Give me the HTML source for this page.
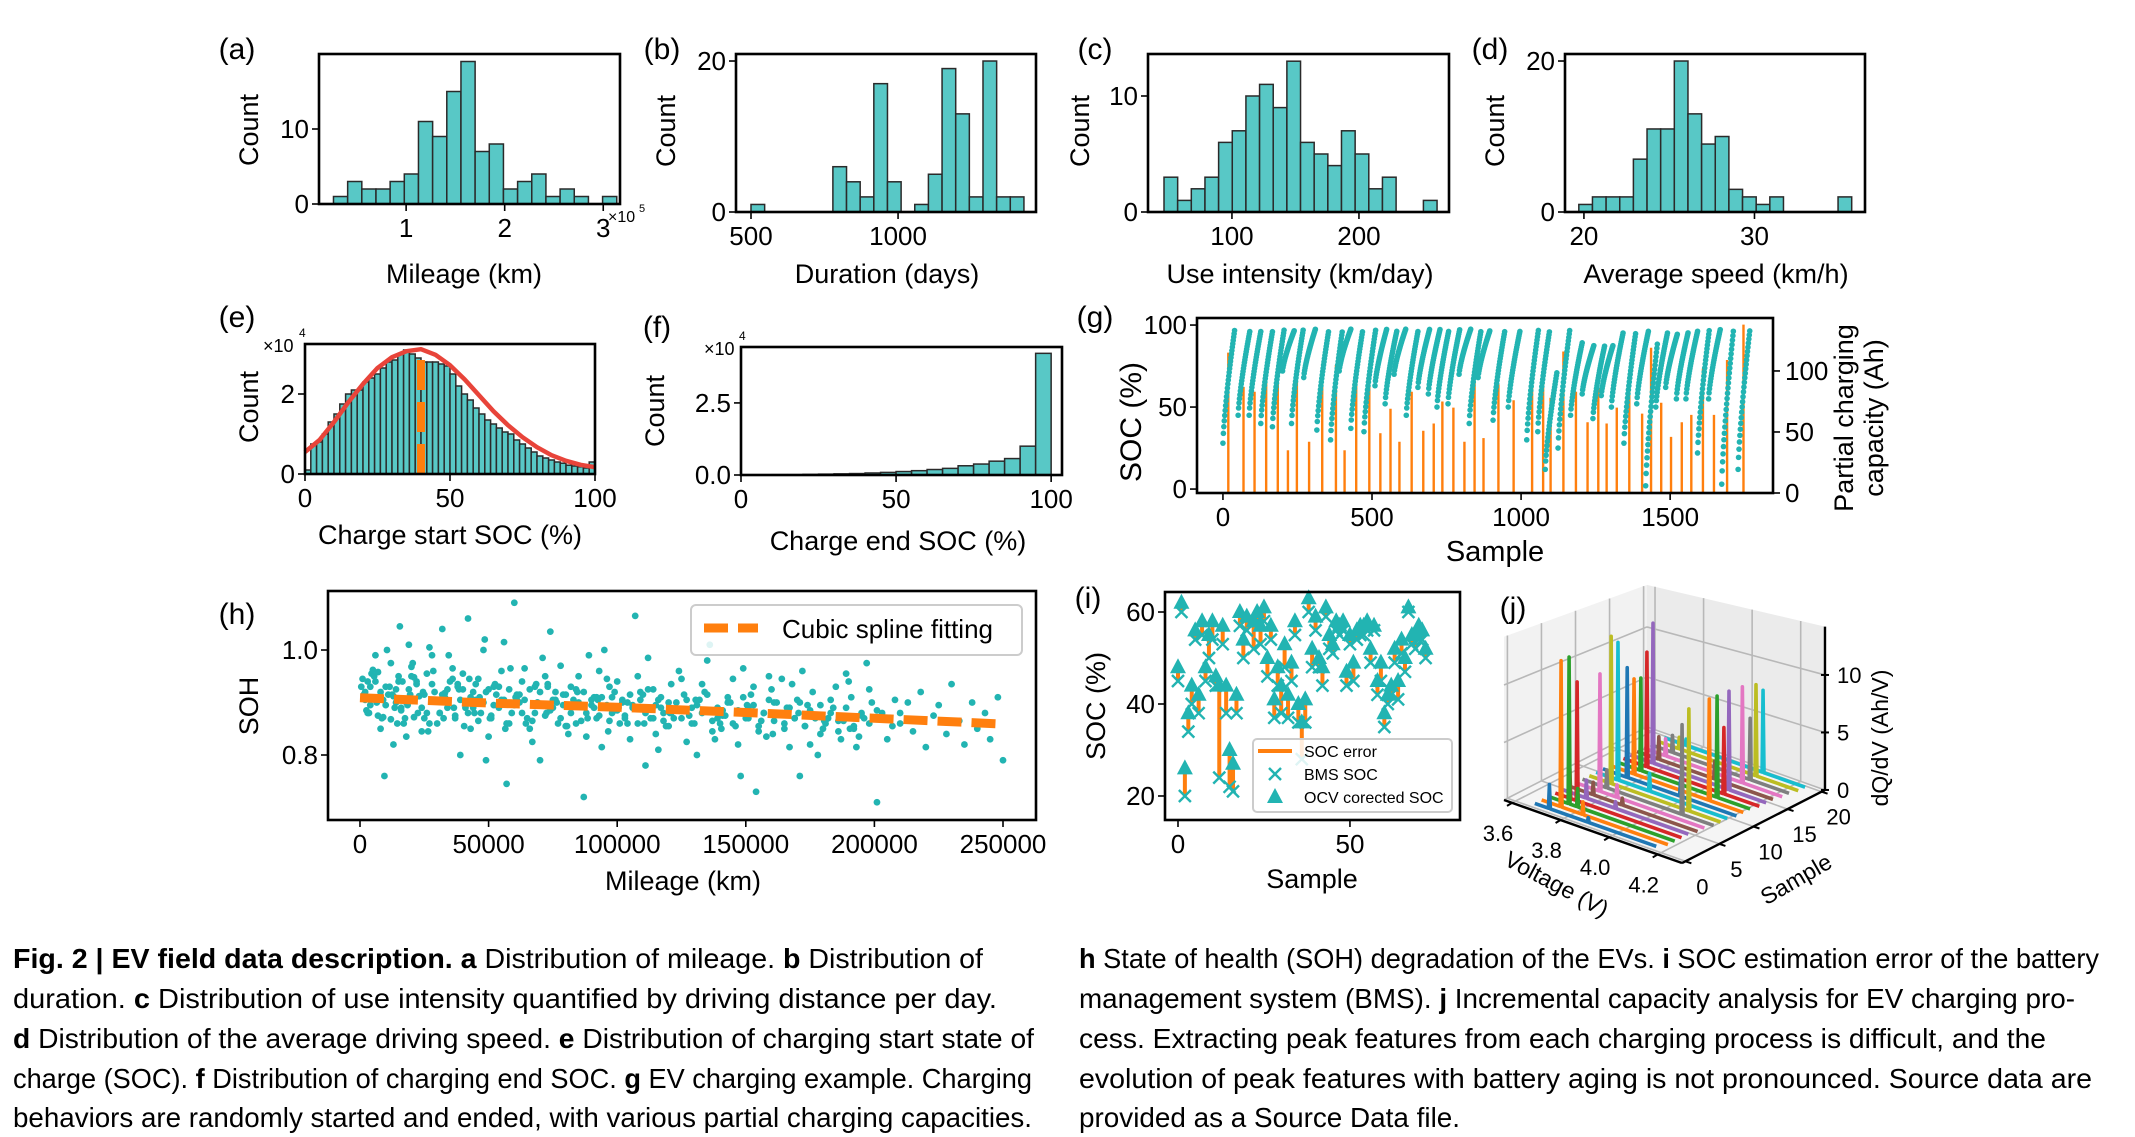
<!DOCTYPE html>
<html><head><meta charset="utf-8"><title>Fig. 2 EV field data description</title>
<style>
html,body{margin:0;padding:0;background:#fff;}
svg{display:block;}
text{font-family:"Liberation Sans",Arial,sans-serif;fill:#000;}
.cap{font-size:28px;}
.b{font-weight:bold;}
</style></head>
<body>
<svg id="fig" width="2135" height="1137" viewBox="0 0 2135 1137" xmlns="http://www.w3.org/2000/svg">
<rect x="0" y="0" width="2135" height="1137" fill="#fff"/>
<g font-size="30">
<text x="237" y="59" text-anchor="middle">(a)</text>
<text x="662" y="59" text-anchor="middle">(b)</text>
<text x="1095" y="59" text-anchor="middle">(c)</text>
<text x="1490" y="59" text-anchor="middle">(d)</text>
<text x="237" y="327" text-anchor="middle">(e)</text>
<text x="657" y="337" text-anchor="middle">(f)</text>
<text x="1095" y="327" text-anchor="middle">(g)</text>
<text x="237" y="624" text-anchor="middle">(h)</text>
<text x="1088" y="608" text-anchor="middle">(i)</text>
<text x="1513" y="618" text-anchor="middle">(j)</text>
</g>
<g class="cap">
<text x="13" y="968" textLength="970" lengthAdjust="spacingAndGlyphs" class="cap"><tspan class="b">Fig. 2 | EV field data description. a</tspan> Distribution of mileage. <tspan class="b">b</tspan> Distribution of</text>
<text x="13" y="1008" textLength="984" lengthAdjust="spacingAndGlyphs" class="cap">duration. <tspan class="b">c</tspan> Distribution of use intensity quantified by driving distance per day.</text>
<text x="13" y="1048" textLength="1021" lengthAdjust="spacingAndGlyphs" class="cap"><tspan class="b">d</tspan> Distribution of the average driving speed. <tspan class="b">e</tspan> Distribution of charging start state of</text>
<text x="13" y="1088" textLength="1019" lengthAdjust="spacingAndGlyphs" class="cap">charge (SOC). <tspan class="b">f</tspan> Distribution of charging end SOC. <tspan class="b">g</tspan> EV charging example. Charging</text>
<text x="13" y="1127" textLength="1019" lengthAdjust="spacingAndGlyphs" class="cap">behaviors are randomly started and ended, with various partial charging capacities.</text>
</g>
<g class="cap">
<text x="1079" y="968" textLength="1020" lengthAdjust="spacingAndGlyphs" class="cap"><tspan class="b">h</tspan> State of health (SOH) degradation of the EVs. <tspan class="b">i</tspan> SOC estimation error of the battery</text>
<text x="1079" y="1008" textLength="996" lengthAdjust="spacingAndGlyphs" class="cap">management system (BMS). <tspan class="b">j</tspan> Incremental capacity analysis for EV charging pro-</text>
<text x="1079" y="1048" textLength="967" lengthAdjust="spacingAndGlyphs" class="cap">cess. Extracting peak features from each charging process is difficult, and the</text>
<text x="1079" y="1088" textLength="1013" lengthAdjust="spacingAndGlyphs" class="cap">evolution of peak features with battery aging is not pronounced. Source data are</text>
<text x="1079" y="1127" textLength="381" lengthAdjust="spacingAndGlyphs" class="cap">provided as a Source Data file.</text>
</g>
</svg>
<script>
// ---------- data ----------
const aCounts=[1,3,2,2,3,4,11,9,15,19,7,8,2,3,4,1,2,1,0,1];
const aBin=[0.263,0.1437];
const aTicks=[1,2,3];
const aTickLabels=["1","2","3"];
const bCounts=[1,0,0,0,0,0,6,4,2,17,4,0,1,5,19,13,2,20,2,2];
const bBin=[500,46.4];
const bTicks=[500,1000];
const bTickLabels=["500","1000"];
const cCounts=[3,1,2,3,6,7,10,11,9,13,6,5,4,7,5,2,3,0,0,1];
const cBin=[46.5,10.75];
const cTicks=[100,200];
const cTickLabels=["100","200"];
const dCounts=[1,2,2,2,7,11,11,20,13,9,10,3,2,1,2,0,0,0,0,2];
const dBin=[19.7,0.8];
const dTicks=[20,30];
const dTickLabels=["20","30"];
const eCounts=[0.1,0.75,0.8,1.0,1.3,1.5,1.75,2.0,2.1,2.1,2.3,2.4,2.5,2.65,2.8,2.85,3.0,3.1,3.0,2.9,2.8,2.8,2.8,2.75,2.7,2.5,2.2,2.0,1.85,1.65,1.5,1.35,1.25,1.15,1.05,1.0,0.85,0.75,0.65,0.55,0.45,0.4,0.35,0.3,0.27,0.22,0.2,0.18,0.15,0.3];
const eBin=[0,2];
const eCurveX=[0,5,10,15,20,25,30,35,40,45,50,55,60,65,70,75,80,85,90,95,100];
const eCurveY=[0.55,0.85,1.3,1.8,2.25,2.65,2.92,3.07,3.12,2.98,2.72,2.37,1.97,1.57,1.22,0.92,0.67,0.47,0.33,0.23,0.17];
const eMean=[40];
const fCounts=[0.005,0.005,0.01,0.01,0.02,0.03,0.04,0.05,0.07,0.09,0.12,0.15,0.19,0.23,0.32,0.38,0.48,0.57,1.0,4.22];
const fBin=[0,5];
const gStemSample=[18,69,106,145,184,218,248,289,333,379,408,447,491,528,562,592,633,672,707,736,773,810,844,874,924,975,1037,1074,1099,1142,1184,1223,1259,1287,1321,1363,1406,1436,1470,1503,1539,1571,1610,1647,1691,1746];
const gStemCap=[115,87,83,93,95,35,92,42,96,105,35,99,99,49,69,42,83,51,57,75,70,42,92,45,89,76,97,89,78,116,83,58,86,57,70,98,65,119,74,46,58,64,102,64,109,138];
const gStartSoc=[28,45,45,40,38,72,40,68,36,30,72,37,35,63,52,70,45,62,58,50,52,70,40,68,42,50,30,35,12,25,45,58,43,57,50,28,52,2,50,62,55,55,22,55,3,12];
const gEndSoc=[98,97,97,97,98,97,98,98,97,97,98,97,98,98,97,98,97,98,98,97,98,98,97,97,97,97,98,97,72,98,90,88,88,88,96,96,97,90,96,95,96,97,98,98,98,98];
const hKm=[1,3,5,2,8,4,6,9,11,7,13,15,10,12,17,14,19,16,21,18,
23,20,25,22,27,24,29,26,31,28,33,30,35,32,37,34,39,36,41,38,
43,40,45,42,47,44,49,46,51,48,53,50,55,52,57,54,59,56,61,58,
63,60,65,62,67,64,69,66,71,68,73,70,75,72,77,74,79,76,81,78,
83,80,85,82,87,84,89,86,91,88,93,90,95,92,97,94,99,96,101,98,
103,100,105,102,107,104,109,106,111,108,113,110,115,112,117,114,119,116,121,118,
123,120,125,122,127,124,129,126,131,128,133,130,135,132,137,134,139,136,141,138,
143,140,145,142,147,144,149,146,151,148,153,150,155,152,157,154,159,156,161,158,
163,160,165,162,167,164,169,166,171,168,173,170,175,172,177,174,179,176,181,178,
183,180,185,182,187,184,189,186,191,188,193,190,195,192,197,194,199,196,201,198,
203,205,208,210,213,215,218,220,223,225,228,230,233,235,238,240,243,245,248,250,
0.5,2.5,4.5,6.5,8.5,10.5,12.5,14.5,16.5,18.5,20.5,22.5,24.5,26.5,28.5,30.5,32.5,34.5,36.5,38.5,
40.5,42.5,44.5,46.5,48.5,50.5,52.5,54.5,56.5,58.5,1.5,3.5,5.5,7.5,9.5,11.5,13.5,15.5,17.5,19.5,
60.5,64.5,68.5,72.5,76.5,80.5,84.5,88.5,92.5,96.5,100.5,110.5,120.5,130.5,140.5,150.5,160.5,170.5,180.5,190.5,
2,4,6,7,9,10,12,13,15,16,18,19,21,22,24,25,27,28,30,31,
33,34,36,37,39,40,42,43,45,46,48,49,51,52,54,55,57,58,60,61,
63,64,66,67,69,70,72,73,75,76,78,79,81,82,84,85,87,88,90,91,
93,94,96,97,99,100,102,103,105,106,108,109,111,112,114,115,117,118,120,121,
123,125,127,129,131,133,135,137,139,141,143,145,147,149,151,153,155,157,159,161,
163,165,167,169,171,173,175,177,179,181,183,186,189,192,195,198,201,204,207,210,
3,8,14,20,26,32,38,44,50,56,62,68,74,80,86,92,98,104,110,116];
const hSoh=[945,880,962,905,850,930,990,872,915,958,820,940,895,975,860,925,1010,890,948,835,
912,968,870,935,1005,845,920,955,880,990,910,860,940,1040,875,925,800,965,890,930,
850,955,905,1060,880,920,790,945,870,1000,915,835,960,895,745,930,880,1015,905,860,
940,1090,870,915,825,965,900,850,985,880,930,790,905,950,860,1035,895,920,840,970,
905,855,950,880,720,925,990,865,910,835,960,895,1000,870,930,815,885,945,860,910,
875,940,830,905,1065,860,920,895,780,950,870,915,840,985,890,925,855,810,935,880,
900,855,945,870,825,960,890,915,800,875,935,860,980,905,845,920,870,1010,885,830,
910,860,945,875,820,900,965,855,890,760,930,870,845,915,880,730,950,865,900,835,
880,925,850,900,815,945,870,890,760,935,855,905,820,960,875,895,840,920,865,800,
905,850,930,870,830,890,955,845,910,865,815,940,880,855,975,835,900,870,710,925,
880,830,905,860,900,845,920,815,875,895,840,935,865,820,900,850,880,830,910,790,
930,885,955,900,870,1000,915,860,940,895,975,880,920,845,960,905,870,990,890,925,
855,945,880,910,1020,870,935,895,850,965,915,880,950,905,760,930,890,1045,870,915,
910,860,935,880,900,855,920,870,905,845,890,860,880,905,850,895,840,880,865,850,
920,895,940,875,905,930,868,912,950,885,900,925,872,940,890,915,860,935,905,880,
918,890,945,870,905,925,880,910,935,865,900,920,875,930,890,905,860,925,895,915,
880,905,925,865,900,920,875,935,890,905,870,915,895,930,860,900,920,880,905,890,
875,910,895,865,920,885,900,870,915,890,860,905,880,925,870,895,910,865,900,880,
885,870,905,860,895,880,915,865,890,875,900,860,885,910,870,895,855,880,905,865,
880,860,890,870,900,855,885,870,895,860,880,865,890,850,875,860,885,870,855,880,
940,920,900,950,880,915,935,890,925,905,900,930,885,915,895,910,880,900,890,905];
const hFitKm=[0,50000,100000,150000,200000,250000];
const hFitSoh=[0.909,0.899,0.891,0.881,0.870,0.859];
const hTicks=[0,50000,100000,150000,200000,250000];
const hTickLabels=["0","50000","100000","150000","200000","250000"];
const iSample=[0,1,2,3,4,5,6,7,8,9,10,11,12,13,14,15,16,17,18,19,20,22,23,24,25,26,27,28,29,30,31,32,33,34,35,36,37,38,39,40,41,42,43,44,45,46,47,48,49,50,51,52,53,54,55,56,57,58,59,60,61,62,63,64,65,66,67,68,69,70,71,72];
const iOcv=[48,62,26,38,44,56,42,58,48,55,58,46,44,57,44,30,27,42,60,54,59,58,60,57,61,50,57,41,48,44,53,42,49,58,40,36,41,63,52,59,50,48,61,55,53,58,57,58,47,55,49,56,57,57,58,52,57,45,49,38,42,44,52,45,54,50,61,55,55,57,56,52];
const iBms=[45,60,20,34,40,54,38,55,45,50,54,44,24,53,38,22,21,38,57,50,56,52,58,53,58,46,54,37,44,38,48,37,45,55,36,28,36,60,48,56,48,44,59,52,51,56,55,56,44,53,45,54,55,55,56,49,56,42,45,35,40,42,49,41,51,47,60,53,52,54,54,50];
const jPeak1V=[3.74,3.76,3.765,3.77,3.78,3.78,3.78,3.78,3.77,3.77,3.78,3.78,3.78,3.777,3.774,3.77,3.77,3.77,3.77,3.77];
const jPeak1H=[2.5,13.2,13.3,10.9,2,1.5,10.9,2,13.7,12.9,10.4,9.1,8.9,11,13.4,2.5,2,2,1.5,1];
const jPeak2V=[3.9,3.85,3.8,3.74,3.9,3.9,3.85,4.09,4.09,3.9,4.0,4.09,4.094,4.094,4.087,4.0,4.086,4.09,4.086,4.087];
const jPeak2H=[0.8,1.5,2,3,1,1,1.5,8.3,9.4,2,2,9.4,9.4,6.3,9.2,2,9.0,5.9,8.6,7.8];
const jEndV=[4.18,4.2,4.2,4.2,4.2,4.21,4.21,4.22,4.22,4.22,4.23,4.23,4.23,4.24,4.24,4.24,4.25,4.25,4.26,4.26];
const jVTicks=[3.6,3.8,4.0,4.2];
const jSTicks=[0,5,10,15,20];
const jZTicks=[0,5,10];

// ---------- helpers ----------
const NS='http://www.w3.org/2000/svg';
const svg=document.getElementById('fig');
const TEAL='#58c8c6', DOT='#22b4b2', ORANGE='#ff7f0e';
function mk(tag,attrs,parent){const e=document.createElementNS(NS,tag);for(const k in attrs)e.setAttribute(k,attrs[k]);(parent||svg).appendChild(e);return e;}
function lin(d0,d1,r0,r1){return v=>r0+(v-d0)/(d1-d0)*(r1-r0);}
function label(parent,x,y,str,size,anchor,name,rot,color){
  const t=mk('text',{x:x,y:y,'font-size':size,'text-anchor':anchor||'middle'},parent);
  if(rot)t.setAttribute('transform','rotate('+rot+' '+x+' '+y+')');
  if(color)t.setAttribute('fill',color);
  t.textContent=str;
  
  
  return t;
}
function group(name){const g=mk('g',{});
  
  
  return g;}
function frame(g,box,name){const r=mk('rect',{x:box[0],y:box[1],width:box[2]-box[0],height:box[3]-box[1],fill:'none',stroke:'#000','stroke-width':2.6},g);
  
  }
function xTicks(g,ticks,labels,sx,box,pfx){
  ticks.forEach((t,i)=>{const x=sx(t);
    const l=mk('line',{x1:x,x2:x,y1:box[3],y2:box[3]+7,stroke:'#000','stroke-width':1.6},g);
    
    
    label(g,x,box[3]+33,labels[i],26,'middle',pfx+'-x-tick-label');});
}
function yTicks(g,ticks,labels,sy,box,pfx,side,color){
  ticks.forEach((t,i)=>{const y=sy(t);
    const x0=side==='right'?box[2]:box[0];const dx=side==='right'?7:-7;
    const l=mk('line',{x1:x0,x2:x0+dx,y1:y,y2:y,stroke:'#000','stroke-width':1.6},g);
    
    
    label(g,side==='right'?x0+12:x0-10,y+9,labels[i],26,side==='right'?'start':'end',pfx+'-y-tick-label',0,color);});
}
function histogram(pfx,box,xd,yd,counts,bin,fill){
  const g=group('panel-'+pfx);
  const sx=lin(xd[0],xd[1],box[0],box[2]), sy=lin(yd[0],yd[1],box[3],box[1]);
  counts.forEach((c,i)=>{if(c<=0)return;
    const x0=sx(bin[0]+i*bin[1]),x1=sx(bin[0]+(i+1)*bin[1]);
    const r=mk('rect',{x:x0,y:sy(c),width:x1-x0,height:sy(0)-sy(c),fill:fill||TEAL,stroke:'#2a2a2a','stroke-width':1.5},g);
    
    });
  return {g,sx,sy};
}

// ---------- (a)-(d) ----------
let p=histogram('a',[319,54,620,204],[0.116,3.17],[0,20],aCounts,aBin);
frame(p.g,[319,54,620,204],'a-frame');
xTicks(p.g,aTicks,aTickLabels,p.sx,[319,54,620,204],'a');
yTicks(p.g,[0,10],["0","10"],p.sy,[319,54,620,204],'a');
label(p.g,464,283,'Mileage (km)',27,'middle','a-x-axis-title');
label(p.g,258,130,'Count',27,'middle','a-y-axis-title',-90);
label(p.g,608,222,'×10',16,'start','a-x-offset-text');
label(p.g,639,212,'5',11,'start','a-x-offset-exponent');

p=histogram('b',[736,54,1036,212],[449,1469],[0,20.93],bCounts,bBin);
frame(p.g,[736,54,1036,212],'b-frame');
xTicks(p.g,bTicks,bTickLabels,p.sx,[736,54,1036,212],'b');
yTicks(p.g,[0,20],["0","20"],p.sy,[736,54,1036,212],'b');
label(p.g,887,283,'Duration (days)',27,'middle','b-x-axis-title');
label(p.g,675,131,'Count',27,'middle','b-y-axis-title',-90);

p=histogram('c',[1148,54,1449,212],[33.9,270.9],[0,13.62],cCounts,cBin);
frame(p.g,[1148,54,1449,212],'c-frame');
xTicks(p.g,cTicks,cTickLabels,p.sx,[1148,54,1449,212],'c');
yTicks(p.g,[0,10],["0","10"],p.sy,[1148,54,1449,212],'c');
label(p.g,1300,283,'Use intensity (km/day)',27,'middle','c-x-axis-title');
label(p.g,1089,131,'Count',27,'middle','c-y-axis-title',-90);

p=histogram('d',[1565,54,1865,212],[18.89,36.48],[0,20.93],dCounts,dBin);
frame(p.g,[1565,54,1865,212],'d-frame');
xTicks(p.g,dTicks,dTickLabels,p.sx,[1565,54,1865,212],'d');
yTicks(p.g,[0,20],["0","20"],p.sy,[1565,54,1865,212],'d');
label(p.g,1716,283,'Average speed (km/h)',27,'middle','d-x-axis-title');
label(p.g,1504,131,'Count',27,'middle','d-y-axis-title',-90);

// ---------- (e) ----------
p=histogram('e',[305,344,595,474],[0,100],[0,3.25],eCounts,eBin);
{
  const pts=eCurveX.map((x,i)=>p.sx(x)+','+p.sy(eCurveY[i])).join(' ');
  const c=mk('polyline',{points:pts,fill:'none',stroke:'#e8443a','stroke-width':4.5,'stroke-linejoin':'round'},p.g);
  
  
  const m=mk('line',{x1:p.sx(eMean[0]),x2:p.sx(eMean[0]),y1:p.sy(0),y2:p.sy(3.1),stroke:ORANGE,'stroke-width':8,'stroke-dasharray':'30 12'},p.g);
  
  
}
frame(p.g,[305,344,595,474],'e-frame');
xTicks(p.g,[0,50,100],["0","50","100"],p.sx,[305,344,595,474],'e');
yTicks(p.g,[0,2],["0","2"],p.sy,[305,344,595,474],'e');
label(p.g,450,544,'Charge start SOC (%)',27,'middle','e-x-axis-title');
label(p.g,258,407,'Count',27,'middle','e-y-axis-title',-90);
label(p.g,263,352,'×10',18,'start','e-y-offset-text');
label(p.g,299,337,'4',12,'start','e-y-offset-exponent');

// ---------- (f) ----------
p=histogram('f',[741,347,1062,475],[0,103.5],[0,4.44],fCounts,fBin);
frame(p.g,[741,347,1062,475],'f-frame');
xTicks(p.g,[0,50,100],["0","50","100"],p.sx,[741,347,1062,475],'f');
yTicks(p.g,[0,2.5],["0.0","2.5"],p.sy,[741,347,1062,475],'f');
label(p.g,898,550,'Charge end SOC (%)',27,'middle','f-x-axis-title');
label(p.g,664,411,'Count',27,'middle','f-y-axis-title',-90);
label(p.g,704,355,'×10',18,'start','f-y-offset-text');
label(p.g,739,340,'4',12,'start','f-y-offset-exponent');

// ---------- (g) ----------
{
  const box=[1197,318,1773,493];
  const g=group('panel-g');
  const sx=lin(-87,1845,box[0],box[2]);
  const sy=lin(-2.4,104.3,box[3],box[1]);
  const sr=lin(0,143.4,box[3],box[1]);
  gStemSample.forEach((s,i)=>{
    const l=mk('line',{x1:sx(s),x2:sx(s),y1:sr(0),y2:sr(gStemCap[i]),stroke:ORANGE,'stroke-width':2.4},g);
    
    
  });
  gStemSample.forEach((s,i)=>{
    const s0=s-18,s1=s+22;
    for(let k=s0;k<=s1;k+=1.5){
      const f=(k-s0)/(s1-s0);
      const soc=gStartSoc[i]+(gEndSoc[i]-gStartSoc[i])*Math.pow(f,0.75);
      const c=mk('circle',{cx:sx(k),cy:sy(soc),r:2.8,fill:DOT},g);
      
      
    }
  });
  frame(g,box,'g-frame');
  xTicks(g,[0,500,1000,1500],["0","500","1000","1500"],sx,box,'g');
  yTicks(g,[0,50,100],["0","50","100"],sy,box,'g');
  yTicks(g,[0,50,100],["0","50","100"],sr,box,'g-right','right');
  label(g,1495,561,'Sample',29,'middle','g-x-axis-title');
  label(g,1141,422,'SOC (%)',30,'middle','g-y-axis-title',-90,'#22b4b2');
  label(g,1853,418,'Partial charging',27,'middle','g-right-axis-title-1',-90,ORANGE);
  label(g,1883,418,'capacity (Ah)',27,'middle','g-right-axis-title-2',-90,ORANGE);
}

// ---------- (h) ----------
{
  const box=[328,591,1036,820];
  const g=group('panel-h');
  const sx=lin(-12440,262830,box[0],box[2]);
  const sy=lin(0.6762,1.1124,box[3],box[1]);
  hKm.forEach((k,i)=>{
    const c=mk('circle',{cx:sx(k*1000),cy:sy(hSoh[i]/1000),r:3.4,fill:DOT},g);
    
    
  });
  const pts=hFitKm.map((k,i)=>sx(k)+','+sy(hFitSoh[i])).join(' ');
  const f=mk('polyline',{points:pts,fill:'none',stroke:ORANGE,'stroke-width':9,'stroke-dasharray':'24 10'},g);
  
  
  frame(g,box,'h-frame');
  xTicks(g,hTicks,hTickLabels,sx,box,'h');
  yTicks(g,[0.8,1.0],["0.8","1.0"],sy,box,'h');
  label(g,683,890,'Mileage (km)',27,'middle','h-x-axis-title');
  label(g,258,706,'SOH',27,'middle','h-y-axis-title',-90);
  const lg=mk('rect',{x:691,y:605,width:331,height:50,rx:5,fill:'#fff','fill-opacity':0.85,stroke:'#cccccc','stroke-width':2},g);
  
  
  const ll=mk('line',{x1:704,x2:758,y1:628,y2:628,stroke:ORANGE,'stroke-width':9,'stroke-dasharray':'24 10'},g);
  
  
  label(g,782,638,'Cubic spline fitting',26,'start','h-legend-label');
}

// ---------- (i) ----------
{
  const box=[1165,592,1460,820];
  const g=group('panel-i');
  const sx=lin(-3.78,82,box[0],box[2]);
  const sy=lin(14.78,64.35,box[3],box[1]);
  iSample.forEach((s,i)=>{
    const x=sx(s);
    const l=mk('line',{x1:x,x2:x,y1:sy(iOcv[i]),y2:sy(iBms[i]),stroke:ORANGE,'stroke-width':4},g);
    
    
  });
  iSample.forEach((s,i)=>{
    const x=sx(s),y=sy(iBms[i]);
    const m=mk('path',{d:`M${x-6},${y-6}L${x+6},${y+6}M${x-6},${y+6}L${x+6},${y-6}`,stroke:DOT,'stroke-width':2.4,fill:'none'},g);
    
    
  });
  iSample.forEach((s,i)=>{
    const x=sx(s),y=sy(iOcv[i]);
    const t=mk('path',{d:`M${x},${y-9}L${x+8},${y+6}L${x-8},${y+6}Z`,fill:DOT},g);
    
    
  });
  frame(g,box,'i-frame');
  xTicks(g,[0,50],["0","50"],sx,box,'i');
  yTicks(g,[20,40,60],["20","40","60"],sy,box,'i');
  label(g,1312,888,'Sample',27,'middle','i-x-axis-title');
  label(g,1105,706,'SOC (%)',27,'middle','i-y-axis-title',-90);
  const lg=mk('rect',{x:1253,y:739,width:199,height:73,rx:4,fill:'#fff','fill-opacity':0.85,stroke:'#cccccc','stroke-width':2},g);
  
  
  const l1=mk('line',{x1:1258,x2:1292,y1:751,y2:751,stroke:ORANGE,'stroke-width':4},g);
  
  
  const l2=mk('path',{d:'M1269,768L1281,780M1269,780L1281,768',stroke:DOT,'stroke-width':2.4},g);
  
  
  const l3=mk('path',{d:'M1275,788L1283,803L1267,803Z',fill:DOT},g);
  
  
  label(g,1304,757,'SOC error',16,'start','i-legend-error-label');
  label(g,1304,780,'BMS SOC',16,'start','i-legend-bms-label');
  label(g,1304,803,'OCV corected SOC',16,'start','i-legend-ocv-label');
}

// ---------- (j) ----------
{
  const g=group('panel-j');
  const V0=3.567,V1=4.3,S0=-0.5,S1=20.5,ZT=14.2;
  function zs(v,s){return 11.5-1.5*((s-S0)/(S1-S0))*(1-(v-V0)/(V1-V0));}
  function P(v,s,z){return [1504+(v-V0)*242.8+(s-S0)*6.81, 800+(v-V0)*86-(s-S0)*3.48-z*zs(v,s)];}
  function poly(pts,attrs,name){const e=mk('polygon',Object.assign({points:pts.map(q=>q.join(',')).join(' ')},attrs),g);
    
    }
  function seg(a,b,attrs,name){const e=mk('line',Object.assign({x1:a[0],y1:a[1],x2:b[0],y2:b[1]},attrs),g);
    
    }
  poly([P(V0,S0,ZT),P(V0,S1,ZT),P(V0,S1,0),P(V0,S0,0)],{fill:'#f2f2f2'},'j-left-pane');
  poly([P(V0,S1,ZT),P(V1,S1,ZT),P(V1,S1,0),P(V0,S1,0)],{fill:'#ebebeb'},'j-back-pane');
  poly([P(V0,S0,0),P(V0,S1,0),P(V1,S1,0),P(V1,S0,0)],{fill:'#f5f5f5'},'j-floor-pane');
  const gs={stroke:'#b8b8b8','stroke-width':1.6};
  jSTicks.forEach(s=>{seg(P(V0,s,0),P(V0,s,ZT),gs,'j-grid-line');seg(P(V0,s,0),P(V1,s,0),gs,'j-grid-line');});
  jVTicks.forEach(v=>{seg(P(v,S1,0),P(v,S1,ZT),gs,'j-grid-line');seg(P(v,S0,0),P(v,S1,0),gs,'j-grid-line');});
  jZTicks.forEach(z=>{seg(P(V0,S0,z),P(V0,S1,z),gs,'j-grid-line');seg(P(V0,S1,z),P(V1,S1,z),gs,'j-grid-line');});
  const cols=['#1f77b4','#ff7f0e','#2ca02c','#d62728','#9467bd','#8c564b','#e377c2','#7f7f7f','#bcbd22','#17becf'];
  for(let s=jPeak1V.length-1;s>=0;s--){
    const base=0.4,vs=3.68,d=0.004;
    const knots=[[vs,base]];
    const pk=[[jPeak1V[s],jPeak1H[s]],[jPeak2V[s],jPeak2H[s]]].sort((a,b)=>a[0]-b[0]);
    pk.forEach(q=>{knots.push([q[0]-d,base]);knots.push([q[0],q[1]]);knots.push([q[0]+d,base]);});
    knots.push([jEndV[s],base]);
    const pts=knots.map(k=>P(k[0],s,k[1]).join(',')).join(' ');
    const l=mk('polyline',{points:pts,fill:'none',stroke:cols[s%10],'stroke-width':3.6,'stroke-linejoin':'round'},g);
    
    
  }
  const ax={stroke:'#000','stroke-width':2.4};
  seg(P(V0,S0,0),P(V1,S0,0),ax,'j-voltage-axis');
  seg(P(V1,S0,0),P(V1,S1,0),ax,'j-sample-axis');
  seg(P(V1,S1,0),P(V1,S1,ZT),ax,'j-z-axis');
  jVTicks.forEach(v=>{const a=P(v,S0,0);seg(a,[a[0]-5,a[1]+3],{stroke:'#000','stroke-width':2},'j-voltage-tick');});
  jSTicks.forEach(s=>{const a=P(V1,s,0);seg(a,[a[0]+6,a[1]+2],{stroke:'#000','stroke-width':2},'j-sample-tick');});
  jZTicks.forEach(z=>{const a=P(V1,S1,z);seg([a[0]-4,a[1]],[a[0]+4,a[1]],{stroke:'#000','stroke-width':2},'j-z-tick');});
  jVTicks.forEach(v=>{const a=P(v,S0,0);label(g,a[0]-14,a[1]+38,v.toFixed(1),22,'middle','j-voltage-tick-label');});
  jSTicks.forEach(s=>{const a=P(V1,s,0);label(g,a[0]+17,a[1]+33,String(s),22,'middle','j-sample-tick-label');});
  jZTicks.forEach(z=>{const a=P(V1,S1,z);label(g,a[0]+12,a[1]+8,String(z),22,'start','j-z-tick-label');});
  label(g,1553,891,'Voltage (V)',23,'middle','j-voltage-axis-title',28);
  label(g,1800,886,'Sample',23,'middle','j-sample-axis-title',-30);
  label(g,1888,738,'dQ/dV (Ah/V)',23,'middle','j-z-axis-title',-90);
}
</script>
</body></html>
